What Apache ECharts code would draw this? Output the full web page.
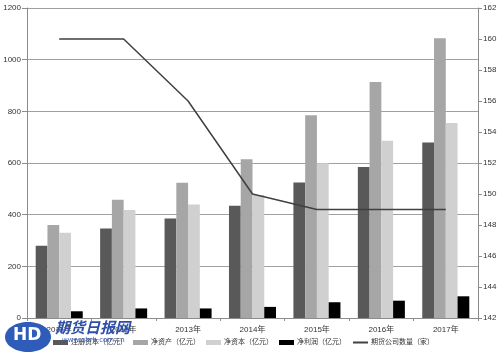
<!DOCTYPE html>
<html>
<head>
<meta charset="utf-8">
<script src="https://cdn.jsdelivr.net/npm/echarts@6/dist/echarts.min.js"></script>
<style>
  html, body { margin: 0; padding: 0; background: #fff; }
  #main { width: 500px; height: 354px; }
</style>
</head>
<body>
<div id="main"></div>
<script>
// data
var years = ["2011年", "2012年", "2013年", "2014年", "2015年", "2016年", "2017年"];
var regCapital = [280, 346, 385, 435, 525, 585, 679];   // 注册资本
var netAssets = [360, 458, 524, 615, 785, 914, 1083];   // 净资产
var netCapital = [330, 418, 439, 476, 599, 686, 755];   // 净资本
var netProfit = [26, 37, 37, 43, 61, 67, 84];           // 净利润
var companyCount = [160, 160, 156, 150, 149, 149, 149]; // 期货公司数量

var font = "Liberation Sans, Noto Sans CJK SC, sans-serif";
var axisGray = "#8c8c8c";

var chart = echarts.init(document.getElementById("main"));

function bar(name, data, color) {
  return {
    name: name,
    type: "bar",
    data: data,
    barGap: 0,
    barCategoryGap: "27%",
    itemStyle: { color: color }
  };
}

var option = {
  animation: false,
  textStyle: { fontFamily: font },
  grid: { left: 27, right: 22, top: 8, bottom: 36, containLabel: false, outerBoundsMode: "none" },
  legend: {
    left: 53,
    top: 339,
    width: 445,
    padding: 0,
    itemWidth: 15,
    itemHeight: 5,
    itemGap: 6,
    textStyle: { fontSize: 7, color: "#333", padding: [0, 0, 0, -2] },
    data: [
      { name: "注册资本（亿元）", icon: "rect" },
      { name: "净资产（亿元）", icon: "rect" },
      { name: "净资本（亿元）", icon: "rect" },
      { name: "净利润（亿元）", icon: "rect" },
      { name: "期货公司数量（家）", itemStyle: { opacity: 0 } }
    ]
  },
  xAxis: {
    type: "category",
    data: years,
    axisLine: { lineStyle: { color: axisGray } },
    axisTick: { show: true, length: 3, lineStyle: { color: axisGray } },
    axisLabel: { fontSize: 8, color: "#333", margin: 8 }
  },
  yAxis: [
    {
      type: "value",
      min: 0,
      max: 1200,
      interval: 200,
      axisLine: { show: true, lineStyle: { color: axisGray } },
      axisTick: { show: true, length: 5, lineStyle: { color: axisGray } },
      axisLabel: {
        fontSize: 8,
        color: "#333",
        margin: 6,
        formatter: function (v) { return String(v); }
      },
      splitLine: { lineStyle: { color: "#a0a0a0", width: 1 } }
    },
    {
      type: "value",
      min: 142,
      max: 162,
      interval: 2,
      axisLine: { show: true, lineStyle: { color: axisGray } },
      axisTick: { show: true, length: 4, lineStyle: { color: axisGray } },
      axisLabel: { fontSize: 8, color: "#333", margin: 5 },
      splitLine: { show: false }
    }
  ],
  series: [
    bar("注册资本（亿元）", regCapital, "#595959"),
    bar("净资产（亿元）", netAssets, "#a6a6a6"),
    bar("净资本（亿元）", netCapital, "#d0d0d0"),
    bar("净利润（亿元）", netProfit, "#000000"),
    {
      name: "期货公司数量（家）",
      type: "line",
      yAxisIndex: 1,
      data: companyCount,
      symbol: "none",
      itemStyle: { color: "#404040" },
      lineStyle: { color: "#404040", width: 1.5 }
    }
  ],
  // 水印：期货日报网
  graphic: [
    {
      type: "ellipse",
      shape: { cx: 28, cy: 337, rx: 23, ry: 15 },
      style: { fill: "#2e5cb8" },
      z: 100
    },
    {
      type: "text",
      left: 13,
      top: 327,
      style: { text: "HD", fill: "#fff", font: "bold 17px DejaVu Sans" },
      z: 101
    },
    {
      type: "text",
      left: 55,
      top: 320,
      style: { text: "期货日报网", fill: "#2e4fa8", font: "italic bold 15px Noto Sans CJK SC" },
      z: 100
    },
    {
      type: "text",
      left: 62,
      top: 337,
      style: { text: "www.qhrb.com.cn", fill: "#3a5ab0", font: "7px DejaVu Sans" },
      z: 100
    }
  ]
};

chart.setOption(option);
</script>
</body>
</html>
